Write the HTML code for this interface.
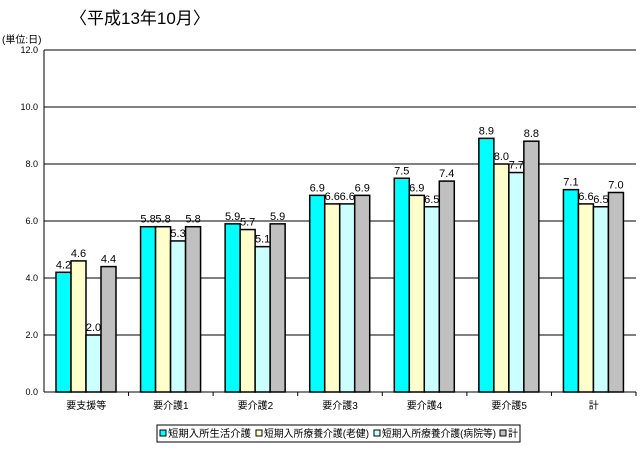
<!DOCTYPE html>
<html><head><meta charset="utf-8"><style>
body{margin:0;background:#fff;width:644px;height:447px;overflow:hidden;font-family:"Liberation Sans","Noto Sans CJK JP",sans-serif}
svg text{font-family:"Liberation Sans","Noto Sans CJK JP",sans-serif}
</style></head><body>
<svg id="c" width="644" height="447">
<text x="70" y="24" font-size="17">〈平成13年10月〉</text>
<text x="2" y="43" font-size="10">(単位:日)</text>
<g id="grid"></g><g id="bars"></g><g id="labels"></g>
<g>
<rect x="157" y="425" width="363" height="17" fill="#fff" stroke="#000"/>
<g id="leg"></g></g>
</svg>
<script>
const categories=["要支援等","要介護1","要介護2","要介護3","要介護4","要介護5","計"];
const seriesNames=["短期入所生活介護","短期入所療養介護(老健)","短期入所療養介護(病院等)","計"];
const s1=[4.2,5.8,5.9,6.9,7.5,8.9,7.1];
const s2=[4.6,5.8,5.7,6.6,6.9,8.0,6.6];
const s3=[2.0,5.3,5.1,6.6,6.5,7.7,6.5];
const s4=[4.4,5.8,5.9,6.9,7.4,8.8,7.0];
const yTicks=[0,2,4,6,8,10,12];
const colors=["#00ffff","#ffffcc","#ccffff","#c0c0c0"];
const series=[s1,s2,s3,s4];
const NS="http://www.w3.org/2000/svg";
const X0=44,X1=636,Y0=392,Y1=50,yMax=12;
const gw=(X1-X0)/categories.length,bw=15;
const y=v=>Y0-(v/yMax)*(Y0-Y1);
const bx=(i,s)=>X0+i*gw+12+s*bw;
function mk(tag,attrs,parent){const e=document.createElementNS(NS,tag);for(const k in attrs)e.setAttribute(k,attrs[k]);document.getElementById(parent).appendChild(e);return e;}
yTicks.forEach(t=>{
  const l=mk("line",{x1:X0,x2:X1,y1:y(t),y2:y(t),stroke:"#000","stroke-width":1},"grid");
  
  
  const tx=mk("text",{x:38,y:y(t)+3,"font-size":9,"text-anchor":"end"},"grid");
  tx.textContent=t.toFixed(1);
  
  
});
const ax=mk("line",{x1:X0,x2:X0,y1:Y1,y2:Y0,stroke:"#000"},"grid");


categories.forEach((c,i)=>{
  const tk=mk("line",{x1:X0+(i+1)*gw,x2:X0+(i+1)*gw,y1:Y0,y2:Y0+4,stroke:"#000"},"grid");
  
  
  const t=mk("text",{x:X0+i*gw+gw/2,y:Y0+17,"font-size":10,"text-anchor":"middle"},"grid");
  t.textContent=c;
  
  
  series.forEach((s,k)=>{
    const r=mk("rect",{x:bx(i,k),y:y(s[i]),width:bw,height:Y0-y(s[i]),fill:colors[k],stroke:"#000","stroke-width":1.5},"bars");
    
    
    const v=mk("text",{x:bx(i,k)+bw/2,y:y(s[i])-4,"font-size":11,"text-anchor":"middle"},"labels");
    v.textContent=s[i].toFixed(1);
    
    
  });
});
const legX=[160,256,374,500];const legW=[83,105,114,10];
seriesNames.forEach((n,k)=>{
  const r=mk("rect",{x:legX[k],y:430,width:6,height:6,fill:colors[k],stroke:"#000"},"leg");
  
  
  const t=mk("text",{x:legX[k]+8,y:437,"font-size":10,textLength:legW[k],lengthAdjust:"spacingAndGlyphs"},"leg");
  t.textContent=n;
  
  
});
</script>
</body></html>
